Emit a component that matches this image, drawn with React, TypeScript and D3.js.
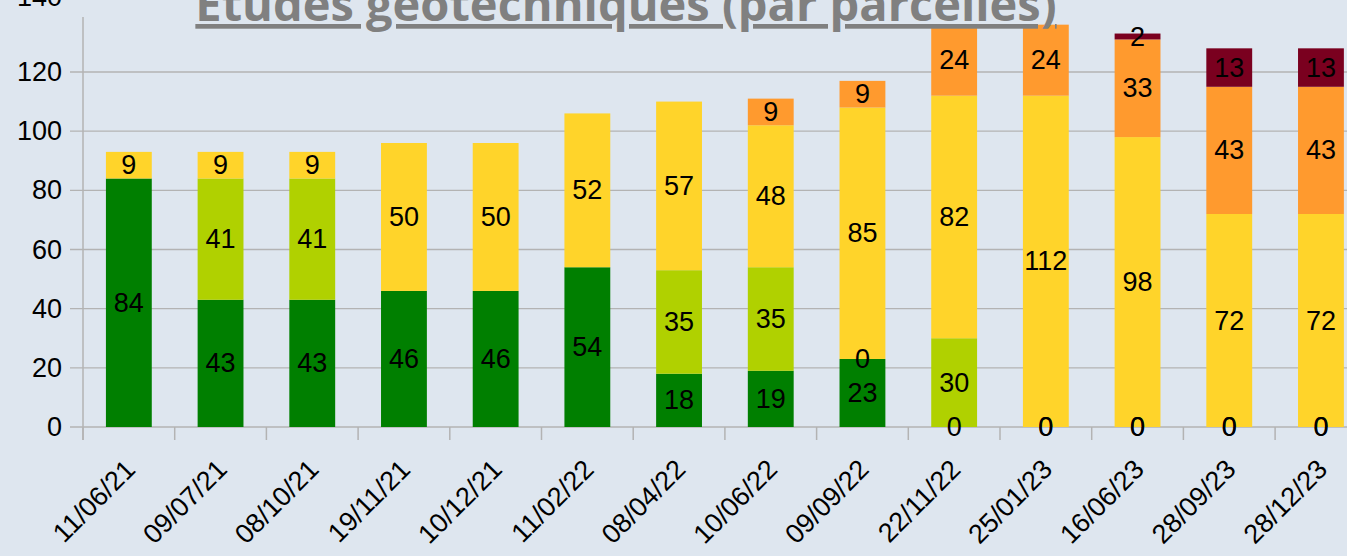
import React from 'react';
import { scaleBand, scaleLinear, stack, range } from 'd3';

const dates = ['11/06/21', '09/07/21', '08/10/21', '19/11/21', '10/12/21', '11/02/22', '08/04/22',
  '10/06/22', '09/09/22', '22/11/22', '25/01/23', '16/06/23', '28/09/23', '28/12/23'];
const vert = [84, 43, 43, 46, 46, 54, 18, 19, 23, 0, 0, 0, 0, 0];
const vertClair = [null, 41, 41, null, null, null, 35, 35, 0, 30, 0, 0, 0, 0];
const jaune = [9, 9, 9, 50, 50, 52, 57, 48, 85, 82, 112, 98, 72, 72];
const orange = [null, null, null, null, null, null, null, 9, 9, 24, 24, 33, 43, 43];
const rouge = [null, null, null, null, null, null, null, null, null, null, null, 2, 13, 13];
const yTicks = [0, 20, 40, 60, 80, 100, 120, 140];

const series = [vert, vertClair, jaune, orange, rouge];
const colors = ['#007f00', '#b0d100', '#ffd42a', '#ff9a2e', '#7a001f'];

const W = 1347;
const H = 556;
const left = 83;
const base = 427;

const App = () => {
  const rows = dates.map((d, i) => {
    const r: any = { date: d };
    series.forEach((s, k) => { r['s' + k] = s[i] ?? 0; });
    return r;
  });
  const keys = series.map((s, k) => 's' + k);
  const stacked = stack().keys(keys)(rows);

  const step = 91.7;
  const x = scaleBand().domain(dates).range([left, left + step * dates.length])
    .paddingInner(0.5).paddingOuter(0.25);
  const y = scaleLinear().domain([0, 120]).range([base, 72]);
  const grid = '#b3b3b3';

  return (
    <svg width={W} height={H} style={{ position: 'absolute', left: 0, top: 0, background: '#dee6ef' }}
      fontFamily="'Liberation Sans', Arial, sans-serif">
      {yTicks.map(t => (
        <g key={t}>
          {t < 140 && <line x1={70} x2={W} y1={y(t)} y2={y(t)} stroke={grid} strokeWidth={1.3} />}
          {/* le 140 est rogné en haut de l'image */}
          <text x={62} y={t < 140 ? y(t) : y(t) - 16} textAnchor="end" dominantBaseline="central" fontSize={27}>{t}</text>
        </g>
      ))}
      <line x1={left} x2={left} y1={17} y2={440} stroke={grid} strokeWidth={1.5} />
      {range(dates.length + 1).map(i => (
        <line key={i} x1={left + i * x.step()} x2={left + i * x.step()} y1={base} y2={440} stroke={grid} strokeWidth={1.5} />
      ))}
      {stacked.map((layer, k) => (
        <g key={k} fill={colors[k]}>
          {layer.map((d, i) => (
            <rect key={i} x={x(dates[i])} width={x.bandwidth()} y={y(d[1])} height={y(d[0]) - y(d[1])} />
          ))}
        </g>
      ))}
      {stacked.map((layer, k) => (
        <g key={'l' + k}>
          {layer.map((d, i) => series[k][i] === null ? null : (
            <text key={i} x={(x(dates[i]) as number) + x.bandwidth() / 2} y={(y(d[0]) + y(d[1])) / 2}
              textAnchor="middle" dominantBaseline="central" fontSize={27} fill="#000">{series[k][i]}</text>
          ))}
        </g>
      ))}
      {dates.map(d => (
        <text key={d} transform={`translate(${(x(d) as number) + x.bandwidth() / 2 + 8},${471}) rotate(-45)`}
          textAnchor="end" fontSize={27}>{d}</text>
      ))}
      <text x={626} y={21} textAnchor="middle" fontFamily="'Open Sans', sans-serif" fontWeight="bold"
        fontSize={47} fill="#808080" textDecoration="underline">Études géotechniques (par parcelles)</text>
    </svg>
  );
};

export default App;
